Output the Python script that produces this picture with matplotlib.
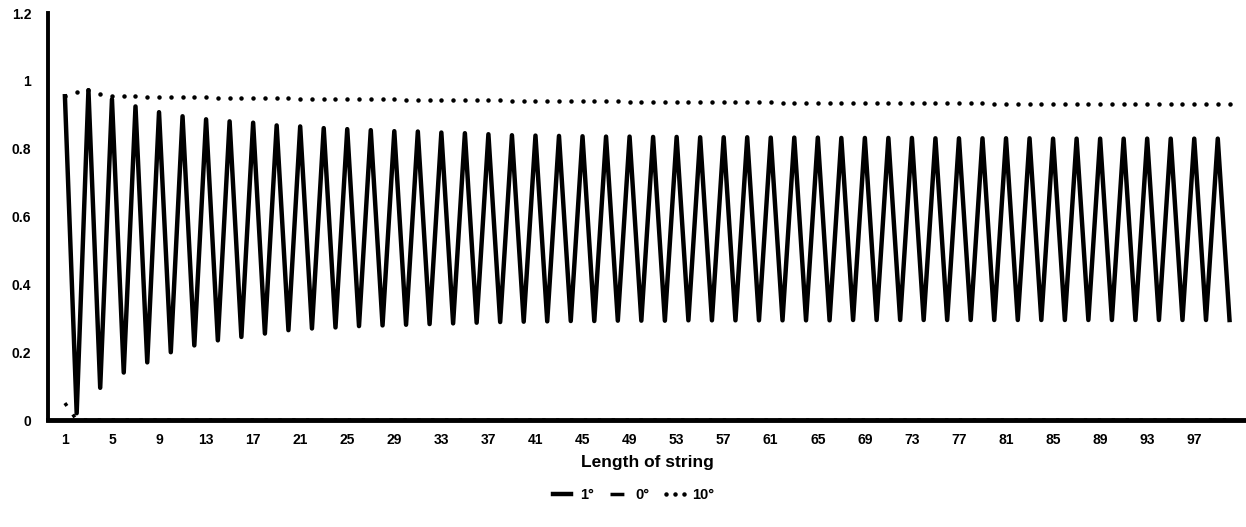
import numpy as np
import matplotlib.pyplot as plt

# data
length = list(range(1, 101))

deg1 = [0.955, 0.020, 0.973, 0.095, 0.946, 0.140, 0.925, 0.170, 0.908, 0.200,
        0.896, 0.220, 0.887, 0.235, 0.881, 0.245, 0.877, 0.255, 0.869, 0.265,
        0.866, 0.270, 0.861, 0.273, 0.858, 0.277, 0.855, 0.279, 0.852, 0.281,
        0.851, 0.283, 0.848, 0.285, 0.846, 0.287, 0.843, 0.289, 0.840, 0.290,
        0.839, 0.291, 0.838, 0.292, 0.837, 0.292, 0.836, 0.293, 0.836, 0.293,
        0.835, 0.293, 0.835, 0.294, 0.834, 0.294, 0.834, 0.294, 0.834, 0.294,
        0.833, 0.294, 0.833, 0.294, 0.833, 0.294, 0.832, 0.295, 0.832, 0.295,
        0.832, 0.295, 0.832, 0.295, 0.831, 0.295, 0.831, 0.295, 0.831, 0.295,
        0.831, 0.295, 0.831, 0.295, 0.830, 0.295, 0.830, 0.295, 0.830, 0.295,
        0.830, 0.295, 0.830, 0.295, 0.830, 0.295, 0.830, 0.295, 0.830, 0.295]

deg0 = [0.05, 0.0] + [0.0] * 98

deg10 = [0.955, 0.968, 0.972, 0.962, 0.956, 0.955, 0.955, 0.954, 0.954, 0.953,
         0.953, 0.952, 0.952, 0.951, 0.951, 0.950, 0.950, 0.949, 0.949, 0.949,
         0.948, 0.948, 0.948, 0.947, 0.947, 0.947, 0.946, 0.946, 0.946, 0.945,
         0.945, 0.945, 0.944, 0.944, 0.944, 0.943, 0.943, 0.943, 0.942, 0.942,
         0.942, 0.941, 0.941, 0.941, 0.940, 0.940, 0.940, 0.940, 0.939, 0.939,
         0.939, 0.939, 0.938, 0.938, 0.938, 0.938, 0.937, 0.937, 0.937, 0.937,
         0.937, 0.936, 0.936, 0.936, 0.936, 0.936, 0.935, 0.935, 0.935, 0.935,
         0.935, 0.935, 0.935, 0.934, 0.934, 0.934, 0.934, 0.934, 0.934, 0.933,
         0.933, 0.933, 0.933, 0.933, 0.933, 0.933, 0.932, 0.932, 0.932, 0.932,
         0.932, 0.932, 0.932, 0.931, 0.931, 0.931, 0.931, 0.931, 0.931, 0.931]

xticks = list(range(1, 101, 4))
yticks = [0, 0.2, 0.4, 0.6, 0.8, 1, 1.2]
ylabels = ['0', '0.2', '0.4', '0.6', '0.8', '1', '1.2']

plt.rcParams['font.family'] = ['Liberation Sans', 'DejaVu Sans']

fig = plt.figure(figsize=(12.46, 5.27), dpi=100)
ax = fig.add_axes([0.0385, 0.203, 0.9615, 0.772])

l1, = ax.plot(length, deg1, color='black', lw=3.2, label='1°')
l0, = ax.plot(length, deg0, color='black', lw=2.5, linestyle=(0, (1, 3)),
              label='0°', clip_on=False)
l10, = ax.plot(length, deg10, color='black', lw=0, marker='o', ms=2.2, label='10°')

ax.set_xlim(-0.44, 101.4)
ax.set_ylim(0, 1.2)
ax.set_xticks(xticks)
ax.set_xticklabels([str(t) for t in xticks], fontsize=10, fontweight='bold')
ax.set_yticks(yticks)
ax.set_yticklabels(ylabels, fontsize=10, fontweight='bold')
ax.tick_params(axis='x', length=0, pad=9)
ax.tick_params(axis='y', length=0, pad=12)

for s in ['top', 'right']:
    ax.spines[s].set_visible(False)
ax.spines['left'].set_linewidth(2.8)
ax.spines['bottom'].set_linewidth(3.5)

ax.set_xlabel('Length of string', fontsize=12.5, fontweight='bold', labelpad=6)

# legend sample for 0° is a short dash, as in the scan
l0_handle = plt.Line2D([], [], color='black', lw=2.5, linestyle=(0, (4, 3)))
fig.legend(handles=[l1, l0_handle, l10], labels=['1°', '0°', '10°'],
           loc='center', bbox_to_anchor=(0.507, 0.06),
           ncol=3, frameon=False, handlelength=1.8,
           handletextpad=0.3, columnspacing=0.8, numpoints=3,
           prop={'weight': 'bold', 'size': 10.5})

fig.savefig('out.png', dpi=100)
